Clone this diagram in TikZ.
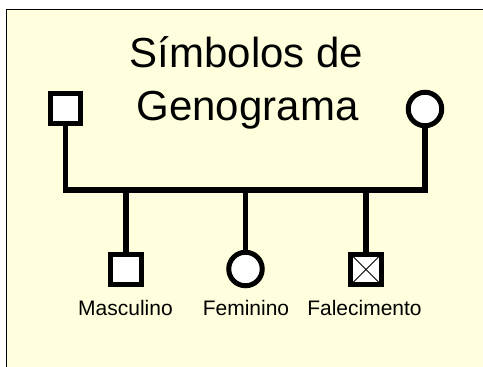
\documentclass[tikz,border=0pt]{standalone}
\usepackage{fontspec}
\setmainfont{Liberation Sans}
\definecolor{fundo}{RGB}{255,255,221}

\begin{document}
\begin{tikzpicture}[x=1pt,y=-1pt,
	homem/.style={draw,fill=white,line width=5pt,minimum size=30.5pt,inner sep=0pt,outer sep=0pt},
	mulher/.style={draw,fill=white,circle,line width=5pt,minimum size=33.5pt,inner sep=0pt,outer sep=0pt},
	ligacao/.style={line width=5.5pt},
	rotulo/.style={anchor=base,font=\fontsize{21}{25}\selectfont},
	titulo/.style={anchor=base,font=\fontsize{42}{50}\selectfont}]
	\useasboundingbox (0,0) rectangle (483,367);
	
	% moldura
	\draw[fill=fundo,line width=1.5pt] (6.5,9.5) rectangle (495,380);
	
	\node[titulo] at (246.5,67) (tit1) {Símbolos de};
	\node[titulo] at (247.5,120) (tit2) {Genograma};
	
	\coordinate (uniao) at (246,190);
	
	% ligacoes
	\node[homem] at (65.5,108.5) (pai) {};
	\node[mulher] at (425,109) (mae) {};
	\draw[ligacao] (pai.south) |- (uniao) -| (mae.south);
	
	\node[homem] at (126,269.5) (filho) {};
	\node[mulher] at (245.5,269) (filha) {};
	\node[homem,path picture={
		\draw[line width=1pt] (path picture bounding box.north west) -- (path picture bounding box.south east);
		\draw[line width=1pt] (path picture bounding box.north east) -- (path picture bounding box.south west);
	}] at (366,269.5) (falecido) {};
	
	\foreach \f in {filho,filha,falecido}
		\draw[ligacao] (\f.north) -- (\f.north |- uniao);
	
	\node[rotulo] at (125.5,315) (rmasc) {Masculino};
	\node[rotulo] at (246,315) (rfem) {Feminino};
	\node[rotulo] at (364.5,315) (rfal) {Falecimento};
\end{tikzpicture}
\end{document}
